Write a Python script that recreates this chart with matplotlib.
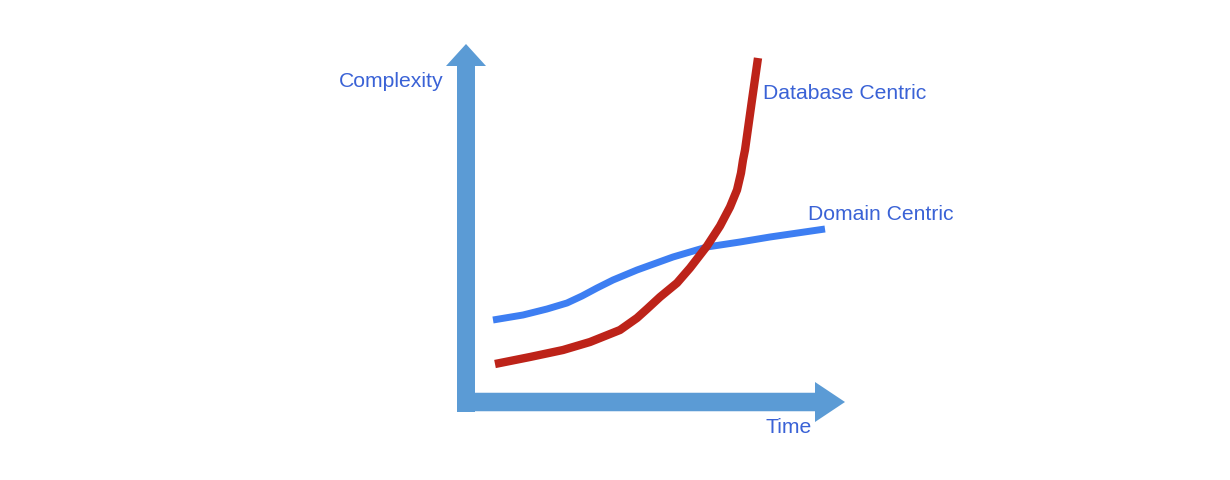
import matplotlib
matplotlib.use("Agg")
import matplotlib.pyplot as plt
from matplotlib.patches import FancyArrow

plt.rcParams['font.family'] = ['Liberation Sans', 'DejaVu Sans']

# Schematic data (time, complexity)
domain_time = [27, 57, 81, 101, 116, 131, 147, 171, 207, 241, 274, 304, 359]
domain_complexity = [82, 87, 93, 99, 106, 114, 122, 132, 145, 155, 160, 165, 173]

database_time = [29, 64, 97, 124, 154, 171, 181, 194, 211, 224, 241, 254, 264,
                 271, 275, 277, 279, 286, 292]
database_complexity = [38, 45, 52, 60, 72, 84, 93, 105, 119, 134, 156, 176, 195,
                       212, 229, 242, 252, 302, 344]

labels = {"x": "Time", "y": "Complexity",
          "domain": "Domain Centric", "database": "Database Centric"}

axis_color = '#5b9bd5'
text_color = '#3a62d6'
domain_color = '#3d7ef2'
database_color = '#bd2319'

fig = plt.figure(figsize=(12.3, 4.8), dpi=100)
ax = fig.add_axes([0, 0, 1, 1])
ax.set_xlim(-466, 764)
ax.set_ylim(-78, 402)
ax.axis('off')

# Axis arrows
ax.add_patch(FancyArrow(0, -10, 0, 368, width=18, head_width=40, head_length=22,
                        length_includes_head=True, color=axis_color, lw=0))
ax.add_patch(FancyArrow(-9, 0, 388, 0, width=18.5, head_width=40, head_length=30,
                        length_includes_head=True, color=axis_color, lw=0))

ax.plot(domain_time, domain_complexity, color=domain_color, lw=5.0,
        solid_capstyle='butt', solid_joinstyle='round')
ax.plot(database_time, database_complexity, color=database_color, lw=6.0,
        solid_capstyle='butt', solid_joinstyle='round')

fs = 15.2
ax.text(-23, 315, labels["y"], color=text_color, fontsize=fs, ha='right', va='baseline')
ax.text(297, 303, labels["database"], color=text_color, fontsize=fs, ha='left', va='baseline')
ax.text(342, 182, labels["domain"], color=text_color, fontsize=fs, ha='left', va='baseline')
ax.text(299, -31, labels["x"], color=text_color, fontsize=fs, ha='left', va='baseline')

fig.savefig("out.png", dpi=100)
